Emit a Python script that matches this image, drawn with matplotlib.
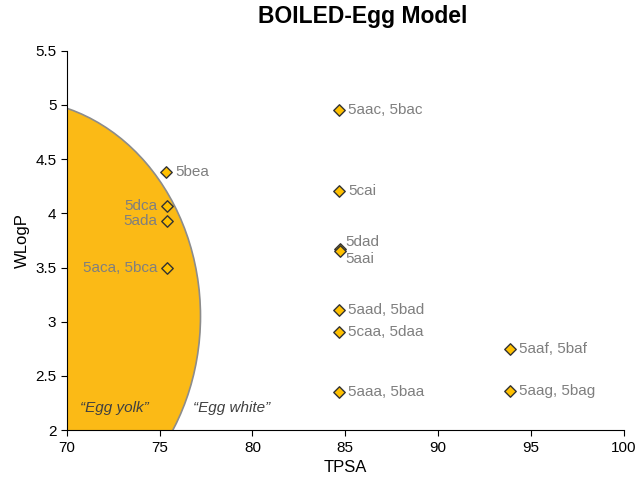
import numpy as np
import matplotlib
matplotlib.use("Agg")
import matplotlib.pyplot as plt
from matplotlib.patches import Ellipse

plt.rcParams['font.family'] = ['Liberation Sans', 'DejaVu Sans']

# compounds (TPSA, WLogP)
tpsa = [84.65, 84.65, 84.7, 84.7, 84.65, 84.65, 84.65, 93.85, 93.85,
        75.35, 75.4, 75.4, 75.4]
wlogp = [4.95, 4.21, 3.67, 3.65, 3.11, 2.91, 2.35, 2.75, 2.36,
         4.38, 4.07, 3.93, 3.50]
labels = ["5aac, 5bac", "5cai", "5dad", "5aai", "5aad, 5bad", "5caa, 5daa",
          "5aaa, 5baa", "5aaf, 5baf", "5aag, 5bag",
          "5bea", "5dca", "5ada", "5aca, 5bca"]
# label side: right or left of the marker
side = ["r", "r", "r", "r", "r", "r", "r", "r", "r", "r", "l", "l", "l"]

fig = plt.figure(figsize=(6.36, 4.79), dpi=100)
ax = fig.add_axes([0.105, 0.102, 0.876, 0.792])

# egg yolk region (approximate)
yolk = Ellipse((67.2, 3.05), 20.0, 4.0, facecolor="#FBBA16",
               edgecolor="#8c8c8c", linewidth=1.2, zorder=1)
ax.add_patch(yolk)

ax.scatter(tpsa, wlogp, marker="D", s=34, facecolor="#FFC000",
           edgecolor="#333333", linewidth=1.0, zorder=3)

grey = "#7f7f7f"
for x, y, t, s in zip(tpsa, wlogp, labels, side):
    if t == "5dad":
        ax.text(x + 0.3, y + 0.07, t, color=grey, fontsize=11, va="center")
    elif t == "5aai":
        ax.text(x + 0.3, y - 0.07, t, color=grey, fontsize=11, va="center")
    elif s == "r":
        ax.text(x + 0.5, y, t, color=grey, fontsize=11, va="center")
    else:
        ax.text(x - 0.5, y, t, color=grey, fontsize=11, va="center",
                ha="right")

ax.text(70.7, 2.17, "\u201cEgg yolk\u201d", style="italic", color="#404040",
        fontsize=11)
ax.text(76.8, 2.17, "\u201cEgg white\u201d", style="italic", color="#404040",
        fontsize=11)

ax.set_xlim(70, 100)
ax.set_ylim(2, 5.5)
ax.set_xticks(np.arange(70, 101, 5))
ax.set_yticks(np.arange(2, 5.51, 0.5))
ax.set_yticklabels(["2", "2.5", "3", "3.5", "4", "4.5", "5", "5.5"])
ax.spines["top"].set_visible(False)
ax.spines["right"].set_visible(False)
ax.tick_params(direction="out", labelsize=11, length=4)
ax.set_xlabel("TPSA", fontsize=12)
ax.set_ylabel("WLogP", fontsize=12)
fig.suptitle("BOILED-Egg Model", fontsize=16.5, fontweight="bold", x=0.57,
             y=0.99)

fig.savefig("out.png", dpi=100)
